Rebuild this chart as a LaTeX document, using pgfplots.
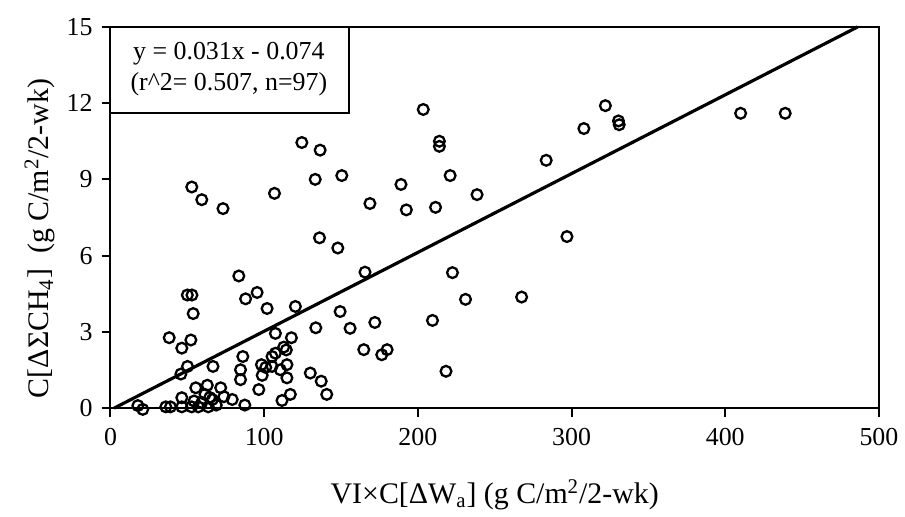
\documentclass[border=0pt]{standalone}
\usepackage{fontspec}
\setmainfont{Liberation Serif}
\usepackage{pgfplots}
\pgfplotsset{compat=1.18}
\begin{document}
\begin{tikzpicture}
\path (-55.5pt,-54pt) rectangle (397pt,205pt);
\begin{axis}[
  scale only axis,
  width=386pt, height=191.5pt,
  at={(0,0)}, anchor=south west,
  xmin=0, xmax=500, ymin=0, ymax=15,
  xtick={0,100,...,500}, ytick={0,3,...,15},
  axis line style={line width=1pt},
  tick style={line width=1pt, black},
  tick align=outside, major tick length=4.5pt,
  xtick pos=bottom, ytick pos=left,
  clip=false,
  /pgf/number format/assume math mode=true,
  ticklabel style={font=\fontsize{13}{15}\selectfont},
  xticklabel style={yshift=-2pt},
  yticklabel style={xshift=-1pt},
  xlabel={VI×C[ΔW\textsubscript{a}] (g C/m\textsuperscript{2}/2-wk)},
  ylabel={C[ΔΣCH\textsubscript{4}]\ \ (g C/m\textsuperscript{2}/2-wk)},
  xlabel style={font=\fontsize{15}{17}\selectfont, at={(axis description cs:0.5,0)}, anchor=center, yshift=-43.5pt},
  ylabel style={font=\fontsize{15}{17}\selectfont, at={(axis description cs:0,0.445)}, anchor=center, yshift=35.5pt},
]
\addplot[only marks, mark=o, mark size=2.7pt, mark options={line width=1.15pt, black}] coordinates {
(124.5,10.45) (136.4,10.15) (52.9,8.7) (59.4,8.2) (73.2,7.85) (106.7,8.45)
(133.2,9.0) (150.5,9.15) (168.8,8.05) (136,6.7) (147.9,6.3) (83.5,5.2)
(165.6,5.35) (50,4.45) (53,4.45) (53.8,3.72) (87.9,4.3) (95.4,4.55)
(101.9,3.92) (120.3,4.0) (149.4,3.8) (133.6,3.16) (107.3,2.94) (117.7,2.77)
(38.2,2.77) (46.4,2.36) (52.3,2.68) (50.1,1.64) (45.8,1.34) (66.7,1.64)
(86.1,2.03) (84.6,1.51) (84.6,1.12) (98.2,1.71) (98.7,1.29) (96.5,0.73)
(105.1,2.03) (107.3,2.16) (112.7,2.4) (114.4,2.29) (114.8,1.71) (110.5,1.51)
(105.1,1.64) (114.8,1.19) (111.6,0.30) (117,0.54) (130,1.38) (137.1,1.06)
(140.7,0.54) (155.9,3.14) (21,-0.05) (17.8,0.1) (36,0.05) (39,0.05)
(46.4,0.05) (46.4,0.41) (52.8,0.05) (57.1,0.05) (63.6,0.05) (54.4,0.28)
(55.5,0.8) (63,0.9) (61.5,0.54) (66.3,0.34) (68.8,0.12) (71.7,0.8)
(73.8,0.45) (79.2,0.34) (87.4,0.12) (59.4,0.22) (64.6,0.42) (101,1.6)
(410,11.6) (439,11.6) (322,11.9) (308,11.0) (330.5,11.3) (331,11.15)
(283.5,9.75) (203.5,11.75) (297,6.75) (214,10.5) (214,10.3) (221,9.15)
(189,8.8) (238.5,8.4) (192.5,7.8) (211.5,7.9) (222.5,5.33) (267.5,4.37)
(231,4.28) (172,3.37) (209.5,3.45) (164.8,2.3) (180,2.3) (176.5,2.1)
(218.3,1.45)
};
\addplot[black, line width=1.6pt] coordinates {(2.39,0) (486.2,15)};
\draw[line width=1pt, fill=white] (axis cs:0,11.63) rectangle (axis cs:155,15);
\node[align=center, font=\fontsize{13}{15.5}\selectfont] at (axis cs:77,13.32)
  {y = 0.031x - 0.074\\(r\^{}2= 0.507, n=97)};
\end{axis}
\end{tikzpicture}
\end{document}
